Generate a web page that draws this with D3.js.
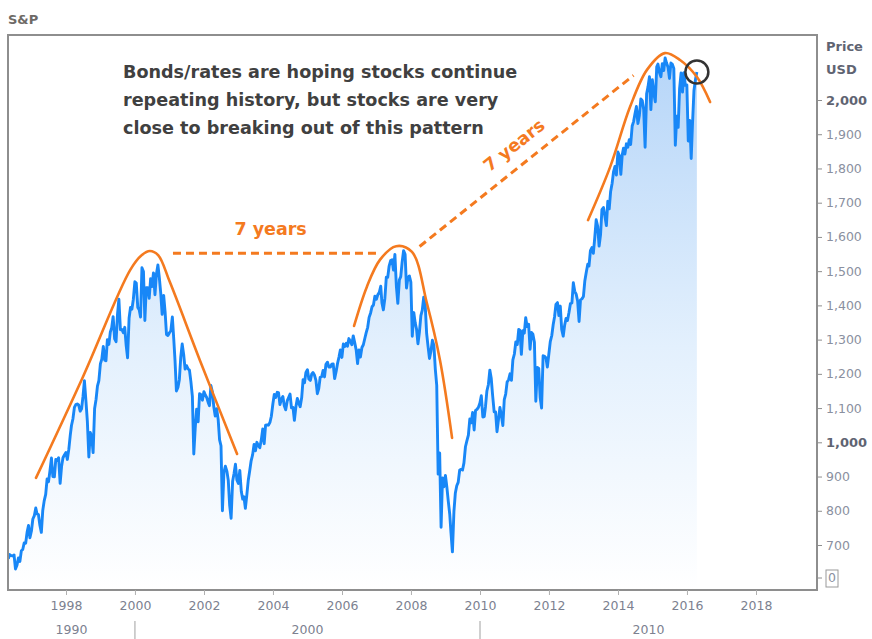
<!DOCTYPE html>
<html><head><meta charset="utf-8">
<script src="https://cdn.jsdelivr.net/npm/d3@7"></script>
<style>body{margin:0;background:#fff}svg{display:block;font-family:"DejaVu Sans",sans-serif}</style>
</head><body><svg id="c" width="872" height="639"></svg>
<script>
// S&P 500, semi-monthly readings (15th and month end). 1996 starts at end of April, 2016 ends mid-April.
const spx1996=[660,672,669,668,671,630,641,662,652,683,687,706,705,737,757,721,741];
const spx1997=[776,786,808,791,789,757,737,801,829,848,893,885,916,954,900,899,950,947,955,880,929,955,963,970];
const spx1998=[950,980,1020,1049,1068,1102,1110,1112,1109,1091,1098,1134,1180,1121,1062,957,1029,1017,970,1099,1125,1164,1180,1229];
const spx1999=[1243,1280,1240,1238,1300,1286,1322,1335,1367,1302,1294,1373,1418,1329,1330,1320,1336,1283,1247,1363,1394,1389,1418,1469];
const spx2000=[1465,1394,1387,1366,1510,1499,1356,1452,1452,1421,1478,1455,1495,1431,1491,1518,1481,1436,1374,1429,1382,1315,1312,1320];
const spx2001=[1326,1366,1301,1240,1150,1160,1183,1249,1287,1256,1214,1224,1215,1211,1178,1134,966,1041,1097,1060,1142,1139,1123,1148];
const spx2002=[1138,1130,1116,1107,1166,1147,1103,1077,1098,1067,1007,990,800,912,930,916,889,815,778,886,909,936,890,880];
const spx2003=[918,856,834,841,807,848,890,917,946,964,994,975,1000,990,984,1008,1039,996,1050,1051,1050,1058,1076,1112];
const spx2004=[1140,1131,1146,1145,1110,1126,1134,1107,1095,1121,1131,1141,1101,1102,1064,1104,1128,1115,1104,1130,1183,1174,1204,1212];
const spx2005=[1185,1181,1200,1204,1197,1181,1142,1157,1190,1192,1210,1191,1228,1234,1220,1220,1228,1229,1186,1207,1231,1249,1270,1248];
const spx2006=[1287,1280,1289,1281,1303,1295,1285,1311,1292,1270,1230,1270,1249,1277,1285,1304,1321,1336,1365,1378,1396,1401,1427,1418];
const spx2007=[1431,1438,1456,1407,1387,1421,1482,1482,1515,1531,1533,1503,1549,1455,1406,1474,1484,1527,1560,1549,1451,1481,1486,1468];
const spx2008=[1310,1379,1349,1331,1288,1323,1370,1386,1424,1400,1318,1280,1245,1267,1298,1283,1213,1166,907,969,752,896,870,903];
const spx2009=[870,826,789,735,680,798,852,873,883,919,921,919,940,987,1004,1021,1068,1057,1087,1036,1093,1096,1102,1115];
const spx2010=[1136,1074,1075,1104,1150,1169,1211,1187,1136,1089,1089,1031,1065,1102,1079,1049,1125,1141,1176,1183,1200,1181,1241,1258];
const spx2011=[1293,1286,1330,1327,1257,1326,1319,1364,1338,1345,1272,1321,1316,1292,1120,1219,1216,1131,1100,1253,1251,1247,1220,1258];
const spx2012=[1294,1312,1344,1366,1403,1408,1370,1398,1330,1310,1342,1362,1356,1379,1405,1407,1466,1441,1433,1412,1353,1416,1419,1426];
const spx2013=[1472,1498,1520,1515,1560,1569,1552,1598,1650,1631,1573,1606,1680,1686,1661,1633,1704,1682,1733,1757,1791,1806,1781,1848];
const spx2014=[1838,1783,1840,1859,1842,1872,1862,1884,1870,1924,1937,1960,1981,1931,1955,2003,1998,1972,1862,2018,2039,2068,1972,2059];
const spx2015=[2020,1995,2097,2105,2081,2068,2106,2086,2123,2107,2096,2063,2108,2104,2092,1868,1953,1920,2033,2079,2023,2080,2043,2044];
const spx2016=[1880,1940,1829,1932,2027,2060,2082];

const yTicks=[700,800,900,1000,1100,1200,1300,1400,1500,1600,1700,1800,1900,2000];
const boldTicks=[1000,2000];
const xTickYears=[1998,2000,2002,2004,2006,2008,2010,2012,2014,2016,2018];
const decades=[{label:"1990",from:1990,to:2000},{label:"2000",from:2000,to:2010},{label:"2010",from:2010,to:2020}];

// annotation shapes in data space [fractional year, price]
const arc1=[[1997.13,896],[1998.49,1191],[1999.86,1503],[2000.2,1547],[2000.43,1559],[2000.67,1547],[2001.01,1468],[2001.88,1240],[2002.96,966]];
const arc2=[[2006.35,1340],[2006.72,1454],[2007.1,1533],[2007.57,1573],[2008.03,1556],[2008.46,1407],[2008.84,1240],[2009.19,1013]];
const arc3=[[2013.13,1649],[2013.77,1804],[2014.35,1980],[2014.84,2088],[2015.36,2137],[2015.8,2117],[2016.29,2067],[2016.67,1994]];
const dash1=[[2001.1,1552],[2007.05,1552]];
const dash2=[[2008.25,1572],[2014.45,2072]];
const note=["Bonds/rates are hoping stocks continue","repeating history, but stocks are very","close to breaking out of this pattern"];

// build series
const years=[spx1996,spx1997,spx1998,spx1999,spx2000,spx2001,spx2002,spx2003,spx2004,spx2005,spx2006,spx2007,spx2008,spx2009,spx2010,spx2011,spx2012,spx2013,spx2014,spx2015,spx2016];
const data=[];
years.forEach((arr,yi)=>{
  const Y=1996+yi;
  const startHalf = Y===1996 ? 7 : 0; // 1996 starts at end of April
  arr.forEach((v,i)=>{
    const h=startHalf+i, m=Math.floor(h/2);
    const date = h%2===0 ? new Date(Y,m,15) : new Date(Y,m+1,0);
    data.push({date,value:v});
  });
});
const fy=t=>{const Y=Math.floor(t);const s=new Date(Y,0,1),e=new Date(Y+1,0,1);return new Date(+s+(t-Y)*(e-s));};

const L=8,R=817,T=35,B=590;
const svg=d3.select("#c");
const x=d3.scaleTime().domain([new Date(1998,0,1),new Date(2018,0,1)]).range([66,756]);
const y=d3.scaleLinear().domain([700,2000]).range([545,100]);

const defs=svg.append("defs");
const g=defs.append("linearGradient").attr("id","fill").attr("gradientUnits","userSpaceOnUse").attr("x1",0).attr("x2",0).attr("y1",50).attr("y2",B);
g.append("stop").attr("offset",0).attr("stop-color","#b5d5f8");
g.append("stop").attr("offset",0.55).attr("stop-color","#e3f0fd");
g.append("stop").attr("offset",1).attr("stop-color","#ffffff");
defs.append("clipPath").attr("id","clip").append("rect").attr("x",L).attr("y",T).attr("width",R-L).attr("height",B-T);

svg.append("text").attr("x",8).attr("y",24).attr("font-size",13).attr("font-weight","bold").attr("fill","#6e6a66").text("S&P");

const plot=svg.append("g").attr("clip-path","url(#clip)");
plot.append("path").datum(data).attr("fill","url(#fill)")
  .attr("d",d3.area().x(d=>x(d.date)).y0(B).y1(d=>y(d.value)));
plot.append("path").datum(data).attr("fill","none").attr("stroke","#1887f7").attr("stroke-width",2.9).attr("stroke-linejoin","round")
  .attr("d",d3.line().x(d=>x(d.date)).y(d=>y(d.value)));

// frame
svg.append("rect").attr("x",L).attr("y",T).attr("width",R-L).attr("height",B-T).attr("fill","none").attr("stroke","#8e8e8e").attr("stroke-width",2);

// annotations
const orange="#f47a1f";
const pl=d3.line().x(d=>x(fy(d[0]))).y(d=>y(d[1])).curve(d3.curveCatmullRom.alpha(0.5));
[arc1,arc2,arc3].forEach(a=>svg.append("path").attr("d",pl(a)).attr("fill","none").attr("stroke",orange).attr("stroke-width",2.6).attr("stroke-linecap","round"));
const sl=d3.line().x(d=>x(fy(d[0]))).y(d=>y(d[1]));
[dash1,dash2].forEach(a=>svg.append("path").attr("d",sl(a)).attr("fill","none").attr("stroke",orange).attr("stroke-width",3).attr("stroke-dasharray","8,5"));
svg.append("text").attr("x",(x(fy(dash1[0][0]))+x(fy(dash1[1][0])))/2-5).attr("y",y(dash1[0][1])-18)
  .attr("text-anchor","middle").attr("font-size",17.5).attr("font-weight","bold").attr("fill",orange).text("7 years");
{
  const x1=x(fy(dash2[0][0])),y1=y(dash2[0][1]),x2=x(fy(dash2[1][0])),y2=y(dash2[1][1]);
  const ang=Math.atan2(y2-y1,x2-x1)*180/Math.PI;
  const cx=x1+(x2-x1)*0.5, cy=y1+(y2-y1)*0.5;
  svg.append("text").attr("transform",`translate(${cx},${cy}) rotate(${ang}) translate(0,-14)`)
    .attr("text-anchor","middle").attr("font-size",17.5).attr("font-weight","bold").attr("fill",orange).text("7 years");
}
const last=data[data.length-1];
svg.append("circle").attr("cx",x(last.date)).attr("cy",y(last.value)).attr("r",11.5).attr("fill","none").attr("stroke","#333").attr("stroke-width",2.5);

svg.append("g").selectAll("text").data(note).join("text")
  .attr("x",123).attr("y",(d,i)=>78+i*28).attr("font-size",17.6).attr("font-weight","bold").attr("fill","#404040").text(d=>d);

// y axis
const ya=svg.append("g").attr("transform",`translate(${R},0)`)
  .call(d3.axisRight(y).tickValues(yTicks).tickSize(5).tickPadding(4).tickFormat(d3.format(",")));
ya.select(".domain").remove();
ya.selectAll("line").attr("stroke","#8e8e8e");
ya.selectAll("text").attr("font-family","DejaVu Sans").attr("font-size",d=>boldTicks.includes(d)?13:12.5)
  .attr("font-weight",d=>boldTicks.includes(d)?"bold":"normal").attr("fill",d=>boldTicks.includes(d)?"#5f6472":"#8a90a0");
// axis break "0"
const zg=svg.append("g").attr("transform",`translate(${R},578)`);
zg.append("line").attr("x1",0).attr("x2",5).attr("stroke","#8e8e8e");
zg.append("rect").attr("x",9).attr("y",-8).attr("width",12).attr("height",17).attr("fill","none").attr("stroke","#9a9a9a");
zg.append("text").attr("x",15).attr("y",0).attr("dy","0.35em").attr("text-anchor","middle").attr("font-size",12.5).attr("fill","#8a90a0").text("0");
svg.append("text").attr("x",826).attr("y",51).attr("font-size",13).attr("font-weight","bold").attr("fill","#5f6472").text("Price");
svg.append("text").attr("x",826).attr("y",74).attr("font-size",13).attr("font-weight","bold").attr("fill","#5f6472").text("USD");

// x axis
const xa=svg.append("g").attr("transform",`translate(0,${B})`)
  .call(d3.axisBottom(x).tickValues(xTickYears.map(v=>new Date(v,0,1))).tickSize(5).tickPadding(6).tickFormat(d3.timeFormat("%Y")));
xa.select(".domain").remove();
xa.selectAll("line").attr("stroke","#b0b0b0");
xa.selectAll("text").attr("font-family","DejaVu Sans").attr("font-size",12.5).attr("fill","#7c8190");
decades.forEach(dc=>{
  const a=Math.max(x(new Date(dc.from,0,1)),L), b=Math.min(x(new Date(dc.to,0,1)),R);
  svg.append("text").attr("x",(a+b)/2).attr("y",634).attr("text-anchor","middle").attr("font-size",12.5).attr("fill","#7c8190").text(dc.label);
  if(x(new Date(dc.from,0,1))>L) svg.append("line").attr("x1",a).attr("x2",a).attr("y1",621).attr("y2",639).attr("stroke","#a0a0a0");
});
</script></body></html>
